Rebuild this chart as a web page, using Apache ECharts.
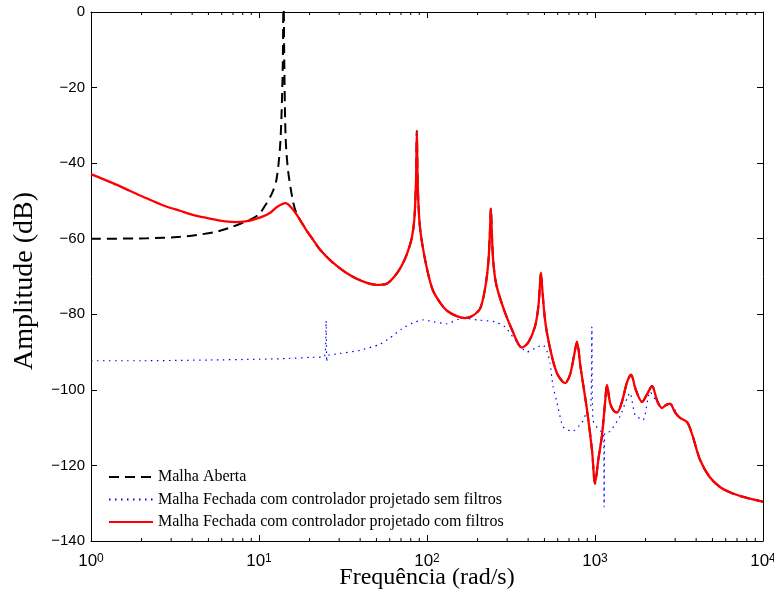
<!DOCTYPE html>
<html>
<head>
<meta charset="utf-8">
<script src="https://cdn.jsdelivr.net/npm/echarts@6/dist/echarts.min.js"></script>
<style>
html, body { margin: 0; padding: 0; background: #fff; }
#chart { width: 774px; height: 596px; }
</style>
</head>
<body>
<div id="chart"></div>
<script>
// Malha Aberta (only the part that is not hidden under the red curve)
const freqAberta = [1, 2.15, 3.4, 4.27, 5.5, 6.7, 8.8, 10, 11.1, 12.0, 12.7, 13.3, 13.6, 13.85, 14.0, 14.15, 14.4, 14.9, 16, 16.8];
const ampAberta  = [-60, -59.9, -59.5, -59, -58.2, -57.1, -55, -53.5, -50.6, -47.8, -44.4, -36.5, -28, -14, 5, -14, -33, -42, -50.5, -53.5];

// Malha Fechada com controlador projetado sem filtros
const freqSem = [1, 2, 5, 10, 15, 20, 24.5, 25.1, 25.3, 25.5, 26, 30, 40, 52, 60, 70, 82, 95, 110, 131, 163, 200, 254, 291, 325, 394, 440, 490, 520, 540, 562, 594, 646, 731, 834, 900, 945, 958, 972, 1050, 1125, 1133, 1142, 1228, 1409, 1616, 1730, 1932, 2125, 2330, 2506, 2795, 3204, 3530, 3800, 4217, 4800, 5545, 6500, 7600, 10000];
const ampSem  = [-92.3, -92.3, -92.1, -91.9, -91.7, -91.4, -91.2, -81.7, -92.6, -91, -90.8, -90.4, -89.5, -88, -86.3, -84, -82.3, -81.5, -82, -82.5, -81, -81.5, -82, -83.3, -86, -90, -89, -88.1, -90, -92.9, -99, -103.4, -109.8, -111, -108.7, -105.5, -104, -83.3, -108, -110.5, -111.5, -131, -111.5, -111, -107, -100.8, -106.6, -108, -100.5, -103.2, -104.8, -103.7, -107.4, -108.5, -112, -118.5, -123, -125.7, -127.3, -128.3, -129.6];

// Malha Fechada com controlador projetado com filtros
const freqCom = [1, 1.35, 1.7, 2.14, 2.7, 3.38, 4.2, 5.3, 6.3, 7.37, 8.3, 9.2, 10.3, 11.6, 12.8, 14.4, 15.6, 16.8, 19, 21, 23, 27, 33, 40, 50, 57, 64, 70, 76, 81, 84, 86, 87, 88, 90, 93, 100, 108, 120, 131, 150, 168, 185, 207, 222, 232, 237, 240, 243, 248, 258, 283, 320, 367, 400, 439, 460, 472, 477, 483, 500, 518, 560, 600, 663, 710, 750, 781, 820, 896, 960, 1000, 1050, 1101, 1150, 1178, 1230, 1290, 1352, 1450, 1550, 1638, 1750, 1905, 2050, 2184, 2350, 2506, 2650, 2795, 3000, 3204, 3530, 3800, 4217, 4800, 5545, 6500, 7600, 10000];
const ampCom  = [-42.9, -45.3, -47.3, -49.3, -51.2, -52.6, -53.9, -54.8, -55.4, -55.6, -55.4, -55, -54.3, -53.2, -51.6, -50.6, -51.8, -53.7, -57.5, -60.3, -62.8, -66, -69, -71, -72.2, -72, -70, -67.5, -64, -60, -55, -45, -31.5, -45, -55, -60.5, -68, -73.5, -77, -79, -80.5, -81, -80.5, -78.5, -73, -66, -58, -52, -58, -66, -72, -78, -84, -88.8, -87.5, -83.3, -78, -71, -69, -72, -80, -85, -92, -96, -98.2, -96, -91, -87.3, -94, -105.3, -116, -124.8, -118, -112, -103, -98.7, -103.5, -105.5, -106, -103, -98, -96, -100, -103.2, -101, -99, -103, -104.8, -104, -103.7, -106, -107.4, -108.5, -112, -118.5, -123, -125.7, -127.3, -128.3, -129.6];

const decadeLabels = ['0', '1', '2', '3', '4'];
const minorTicks = [2, 3, 4, 5, 6, 7, 8, 9, 20, 30, 40, 50, 60, 70, 80, 90, 200, 300, 400, 500, 600, 700, 800, 900, 2000, 3000, 4000, 5000, 6000, 7000, 8000, 9000];

const pairs = (xs, ys) => xs.map((x, i) => [x, ys[i]]);
const dataCom = pairs(freqCom, ampCom);
const dataAberta = pairs(freqAberta, ampAberta).concat(dataCom.filter(d => d[0] > 16.8));

const chart = echarts.init(document.getElementById('chart'));

const baseAxis = {
  axisLine: { show: true, onZero: false, lineStyle: { color: '#000', width: 1 } },
  axisTick: { show: true, inside: true, length: 6, lineStyle: { color: '#000' } },
  splitLine: { show: false },
  minorTick: { show: false }
};

const option = {
  animation: false,
  backgroundColor: '#fff',
  grid: { left: 91, right: 11, top: 12, bottom: 55, containLabel: false, outerBoundsMode: 'none' },
  legend: {
    orient: 'vertical',
    left: 103,
    top: 464,
    itemWidth: 44,
    itemHeight: 16,
    itemGap: 6.5,
    itemStyle: { opacity: 0 },
    textStyle: { fontFamily: 'Liberation Serif', fontSize: 16, color: '#000' },
    data: ['Malha Aberta', 'Malha Fechada com controlador projetado sem filtros', 'Malha Fechada com controlador projetado com filtros']
  },
  xAxis: [
    Object.assign({}, baseAxis, {
      type: 'log', logBase: 10, min: 1, max: 10000, position: 'bottom',
      axisLabel: {
        margin: 12,
        formatter: v => '{b|10}{s|' + decadeLabels[Math.round(Math.log10(v))] + '}',
        rich: {
          b: { fontFamily: 'Liberation Sans', fontSize: 17, color: '#000', lineHeight: 17, verticalAlign: 'bottom' },
          s: { fontFamily: 'Liberation Sans', fontSize: 12, color: '#000', lineHeight: 12, verticalAlign: 'top', padding: [0, 0, 5, 0] }
        }
      },
      name: 'Frequência (rad/s)',
      nameLocation: 'middle',
      nameGap: 25,
      nameMoveOverlap: false,
      nameTextStyle: { fontFamily: 'Liberation Serif', fontSize: 24, color: '#000' }
    }),
    Object.assign({}, baseAxis, {
      type: 'log', logBase: 10, min: 1, max: 10000, position: 'top',
      axisLabel: { show: false }
    })
  ],
  yAxis: [
    Object.assign({}, baseAxis, {
      type: 'value', min: -140, max: 0, interval: 20, position: 'left',
      axisLabel: {
        margin: 6,
        fontFamily: 'Liberation Sans', fontSize: 15, color: '#000',
        formatter: v => String(v).replace('-', '\u2212')
      },
      name: 'Amplitude (dB)',
      nameLocation: 'middle',
      nameGap: 52,
      nameMoveOverlap: false,
      nameTextStyle: { fontFamily: 'Liberation Serif', fontSize: 28, color: '#000', padding: [0, 9, 0, 0] }
    }),
    Object.assign({}, baseAxis, {
      type: 'value', min: -140, max: 0, interval: 20, position: 'right',
      axisLabel: { show: false }
    })
  ],
  series: [
    {
      name: 'Malha Aberta', type: 'line', symbol: 'none', color: '#000', smooth: 0.3,
      lineStyle: { color: '#000', width: 2, type: [10, 6] },
      data: dataAberta, z: 2
    },
    {
      name: 'Malha Fechada com controlador projetado sem filtros', type: 'line', symbol: 'none', color: '#0000ff', smooth: 0.2,
      lineStyle: { color: '#0000ff', width: 1.2, type: [1.5, 4.5] },
      data: pairs(freqSem, ampSem), z: 3
    },
    {
      name: 'Malha Fechada com controlador projetado com filtros', type: 'line', symbol: 'none', color: '#ff0000', smooth: 0.3,
      lineStyle: { color: '#ff0000', width: 2.3 },
      data: dataCom, z: 4
    },
    {
      type: 'custom', silent: true, z: 5,
      data: minorTicks.map(v => [v, -140]),
      renderItem: (params, api) => {
        const v = api.value(0);
        const b = api.coord([v, -140]);
        const t = api.coord([v, 0]);
        return {
          type: 'group',
          children: [
            { type: 'line', shape: { x1: b[0], y1: b[1], x2: b[0], y2: b[1] - 3 }, style: { stroke: '#000', lineWidth: 1 } },
            { type: 'line', shape: { x1: t[0], y1: t[1], x2: t[0], y2: t[1] + 3 }, style: { stroke: '#000', lineWidth: 1 } }
          ]
        };
      }
    }
  ]
};

chart.setOption(option);
</script>
</body>
</html>
